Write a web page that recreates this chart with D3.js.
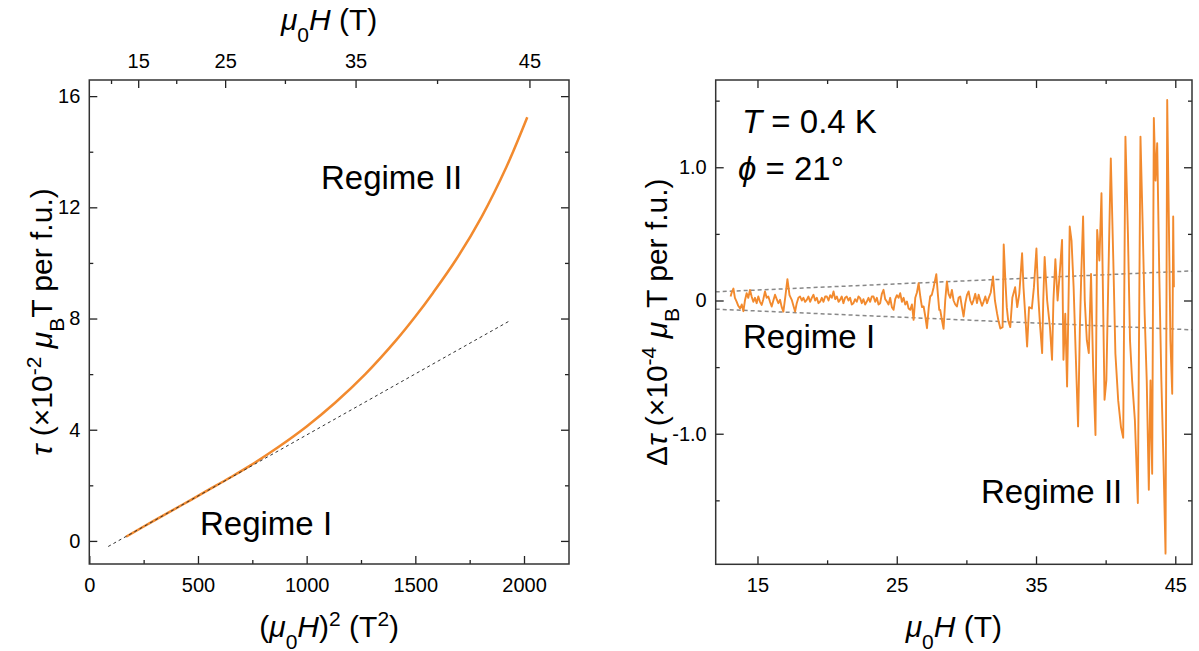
<!DOCTYPE html>
<html>
<head>
<meta charset="utf-8">
<script src="https://cdn.jsdelivr.net/npm/d3@7"></script>
<style>
body { margin: 0; background: #fff; }
svg { font-family: "Liberation Sans", Arial, sans-serif; }
.tick text { font-size: 20px; fill: #000; }
.tick line { stroke: #222; stroke-width: 1.3; }
.title { font-size: 30px; fill: #000; }
.note { font-size: 33px; fill: #000; }
</style>
</head>
<body>
<script>
// left panel: torque against (mu0 H)^2
var leftH2  = [169, 300, 430, 556, 650, 740, 870, 1000, 1131, 1270, 1414, 1500, 1582, 1690, 1805, 1920, 2015];
var leftTau = [0.15, 0.74, 1.31, 1.87, 2.29, 2.71, 3.38, 4.12, 4.97, 6.0, 7.24, 8.07, 8.93, 10.15, 11.66, 13.47, 15.24];
// straight fit of regime I
var fitH2  = [87, 1928];
var fitTau = [-0.2, 7.89];

var leftXTicks = [0, 500, 1000, 1500, 2000], leftXMinor = [250, 750, 1250, 1750];
var leftYTicks = [0, 4, 8, 12, 16], leftYMinor = [2, 6, 10, 14];
var topTicks = [15, 25, 35, 45], topMinor = [10, 20, 30, 40];

// right panel: oscillating part of the torque
var rightField = [13.07,13.15,13.27,13.38,13.51,13.62,13.75,13.87,13.99,14.10,14.22,14.34,14.46,14.58,14.70,14.82,14.94,15.06,15.18,15.30,
  15.42,15.54,15.66,15.78,15.90,16.02,16.14,16.26,16.38,16.50,16.62,16.74,16.86,17.00,17.15,17.30,17.46,17.58,17.70,17.82,
  17.94,18.06,18.18,18.30,18.42,18.54,18.66,18.78,18.90,19.02,19.14,19.26,19.38,19.50,19.62,19.74,19.86,19.98,20.10,20.22,
  20.34,20.46,20.58,20.70,20.82,20.93,21.05,21.17,21.29,21.41,21.53,21.65,21.77,21.89,22.01,22.13,22.25,22.37,22.49,22.61,
  22.73,22.85,22.97,23.09,23.21,23.33,23.45,23.57,23.69,23.81,23.93,24.05,24.17,24.29,24.41,24.53,24.65,24.77,24.89,25.01,
  25.13,25.25,25.37,25.49,25.61,25.73,25.85,25.97,26.09,26.21,26.33,26.45,26.57,26.69,26.81,26.93,27.05,27.17,27.30,27.40,
  27.52,27.65,27.84,27.95,28.05,28.12,28.25,28.36,28.48,28.60,28.72,28.84,28.96,29.08,29.20,29.32,29.44,29.56,29.68,29.80,
  29.92,30.04,30.16,30.28,30.40,30.52,30.64,30.76,30.88,31.00,31.12,31.24,31.36,31.48,31.60,31.75,31.91,32.05,32.20,32.30,
  32.44,32.60,32.68,32.80,32.90,33.00,33.15,33.30,33.50,33.65,33.80,34.00,34.10,34.25,34.36,34.50,34.70,34.85,35.03,35.15,
  35.30,35.44,35.52,35.62,35.80,36.00,36.15,36.25,36.39,36.55,36.70,36.87,36.97,37.10,37.23,37.35,37.42,37.55,37.70,37.85,
  38.02,38.15,38.25,38.38,38.50,38.65,38.79,38.95,39.10,39.27,39.39,39.55,39.70,39.92,40.05,40.20,40.37,40.55,40.70,40.90,
  41.10,41.26,41.42,41.60,41.75,41.90,42.10,42.31,42.50,42.65,42.80,42.95,43.10,43.22,43.34,43.46,43.58,43.70,43.85,44.00,
  44.15,44.30,44.42,44.55,44.65,44.78,44.85,44.90];
var rightTau = [0.03,0.06,0.09,0.02,-0.01,-0.04,-0.06,-0.03,-0.08,0.00,0.055,0.02,0.08,0.03,-0.01,0.02,-0.02,0.03,-0.01,-0.033,
  0.01,0.068,0.02,0.03,-0.01,-0.045,0.00,0.043,0.01,-0.02,0.005,-0.05,-0.083,0.03,0.16,0.04,0.005,-0.04,-0.083,-0.02,
  0.02,0.03,0.00,0.02,-0.01,0.005,0.03,-0.01,0.02,0.043,0.00,0.02,-0.02,-0.008,0.02,-0.01,0.03,0.03,0.00,0.04,
  0.02,0.068,0.01,0.03,-0.01,0.005,0.03,-0.02,0.02,0.03,0.00,0.02,-0.03,-0.02,0.01,-0.01,0.03,0.018,-0.02,0.01,
  -0.03,-0.008,0.02,-0.01,0.03,0.03,-0.01,0.02,-0.03,-0.02,0.05,0.08,0.01,-0.008,-0.03,0.02,-0.05,-0.07,0.01,0.04,
  0.02,0.055,-0.01,0.02,-0.03,-0.008,-0.06,-0.07,-0.03,-0.145,0.02,0.06,0.13,0.03,-0.05,-0.045,-0.12,-0.208,-0.05,0.03,
  0.043,0.10,0.198,0.05,-0.07,-0.07,-0.15,-0.213,0.00,0.143,0.05,0.02,0.08,0.00,-0.03,-0.045,0.02,0.03,-0.05,-0.12,
  -0.02,0.04,0.068,0.00,-0.03,0.005,0.05,-0.02,0.043,0.00,-0.04,-0.008,0.03,-0.02,0.018,0.06,0.18,0.00,-0.095,-0.15,
  -0.21,-0.20,0.42,0.15,-0.05,-0.15,-0.20,0.02,0.10,-0.05,0.05,0.355,0.10,-0.15,-0.345,-0.05,-0.06,0.10,0.39,0.05,
  -0.20,-0.395,0.00,0.327,0.00,-0.20,-0.445,0.00,0.31,0.00,0.20,0.455,-0.445,-0.10,-0.645,0.10,0.555,0.45,0.10,-0.40,
  -0.945,-0.20,0.20,0.63,0.00,-0.30,-0.395,0.20,-0.50,-1.01,0.53,0.30,0.805,-0.745,-0.60,0.20,1.067,0.30,-0.40,-0.75,
  -0.95,-1.03,1.23,0.50,-0.30,-0.60,-0.90,-1.52,1.23,0.60,-0.10,-0.60,-1.42,-0.60,-1.30,1.37,0.90,1.18,0.20,-0.60,
  -1.20,-1.90,1.505,0.50,-0.30,-0.70,0.63,0.10];
// dashed envelope of regime I
var guideField = [12, 46.2];
var guideUpper = [0.065, 0.222];
var guideLower = [-0.065, -0.22];

var rightXTicks = [15, 25, 35, 45], rightXMinor = [20, 30, 40];
var rightYTicks = [-1, 0, 1], rightYMinor = [-1.5, -0.5, 0.5, 1.5];

var orange = "#f28a2e";
var width = 1199, height = 651;

var svg = d3.select("body").append("svg")
    .attr("width", width)
    .attr("height", height);

// draws one set of inward ticks, labels optional
function ticks(axisFn, scale, vals, len, pad, fmt, tr) {
  var ax = axisFn(scale).tickValues(vals)
      .tickSizeInner(-len).tickSizeOuter(0).tickPadding(pad)
      .tickFormat(fmt || "");
  var g = svg.append("g").attr("transform", tr).call(ax);
  g.select(".domain").remove();
  return g;
}

function frame(x0, y0, x1, y1) {
  svg.append("rect")
      .attr("x", x0).attr("y", y0)
      .attr("width", x1 - x0).attr("height", y1 - y0)
      .attr("fill", "none")
      .attr("stroke", "#333")
      .attr("stroke-width", 1.5);
}

// ---------- left panel ----------
var L = {x0: 89.3, x1: 569, y0: 80, y1: 564};
var lx = d3.scaleLinear().domain([0, 2207]).range([L.x0, L.x1]);
var ly = d3.scaleLinear().domain([-0.83, 16.58]).range([L.y1, L.y0]);
var lxTop = d3.scalePow().exponent(2).domain([0, Math.sqrt(2207)]).range([L.x0, L.x1]);

var intFmt = d3.format("d");
ticks(d3.axisBottom, lx, leftXTicks, 8, 14, intFmt, "translate(0," + L.y1 + ")");
ticks(d3.axisBottom, lx, leftXMinor, 4, 14, null, "translate(0," + L.y1 + ")");
ticks(d3.axisLeft, ly, leftYTicks, 8, 9, intFmt, "translate(" + L.x0 + ",0)");
ticks(d3.axisLeft, ly, leftYMinor, 4, 9, null, "translate(" + L.x0 + ",0)");
ticks(d3.axisRight, ly, leftYTicks, 8, 9, null, "translate(" + L.x1 + ",0)");
ticks(d3.axisRight, ly, leftYMinor, 4, 9, null, "translate(" + L.x1 + ",0)");
ticks(d3.axisTop, lxTop, topTicks, 8, 12, intFmt, "translate(0," + L.y0 + ")");
ticks(d3.axisTop, lxTop, topMinor, 4, 12, null, "translate(0," + L.y0 + ")");

var line = d3.line()
    .x(function(d) { return lx(d[0]); })
    .y(function(d) { return ly(d[1]); });

svg.append("path")
    .attr("d", line.curve(d3.curveCatmullRom)(leftH2.map(function(v, i) { return [v, leftTau[i]]; })))
    .attr("fill", "none")
    .attr("stroke", orange)
    .attr("stroke-width", 2.5);

// fit line sits on top of the data
svg.append("path")
    .attr("d", line.curve(d3.curveLinear)(fitH2.map(function(v, i) { return [v, fitTau[i]]; })))
    .attr("fill", "none")
    .attr("stroke", "#333")
    .attr("stroke-width", 1)
    .attr("stroke-dasharray", "3,3");

frame(L.x0, L.y0, L.x1, L.y1);

svg.append("text").attr("class", "note").attr("x", 321).attr("y", 189).text("Regime II");
svg.append("text").attr("class", "note").attr("x", 200).attr("y", 535).text("Regime I");

// axis titles
var t = svg.append("text").attr("class", "title")
    .attr("x", (L.x0 + L.x1) / 2).attr("y", 637).attr("text-anchor", "middle");
t.append("tspan").text("(");
t.append("tspan").attr("font-style", "italic").text("μ");
t.append("tspan").attr("baseline-shift", "sub").attr("font-size", "70%").text("0");
t.append("tspan").attr("font-style", "italic").text("H");
t.append("tspan").text(")");
t.append("tspan").attr("baseline-shift", "super").attr("font-size", "70%").text("2");
t.append("tspan").text(" (T");
t.append("tspan").attr("baseline-shift", "super").attr("font-size", "70%").text("2");
t.append("tspan").text(")");

function fieldTitle(x, y) {
  var t = svg.append("text").attr("class", "title")
      .attr("x", x).attr("y", y).attr("text-anchor", "middle");
  t.append("tspan").attr("font-style", "italic").text("μ");
  t.append("tspan").attr("baseline-shift", "sub").attr("font-size", "70%").text("0");
  t.append("tspan").attr("font-style", "italic").text("H");
  t.append("tspan").text(" (T)");
}
fieldTitle((L.x0 + L.x1) / 2, 30);

function torqueTitle(x, y, pre, exp) {
  var t = svg.append("text").attr("class", "title")
      .attr("transform", "translate(" + x + "," + y + ") rotate(-90)")
      .attr("text-anchor", "middle");
  if (pre) t.append("tspan").text(pre);
  t.append("tspan").attr("font-style", "italic").text("τ");
  t.append("tspan").text(" (×10");
  t.append("tspan").attr("baseline-shift", "super").attr("font-size", "70%").text(exp);
  t.append("tspan").text(" ");
  t.append("tspan").attr("font-style", "italic").text("μ");
  t.append("tspan").attr("baseline-shift", "sub").attr("font-size", "70%").text("B");
  t.append("tspan").text("T per f.u.)");
}
torqueTitle(52, (L.y0 + L.y1) / 2, null, "-2");

// ---------- right panel ----------
var R = {x0: 715.7, x1: 1192, y0: 80, y1: 564.3};
var rx = d3.scaleLinear().domain([12, 46.2]).range([R.x0, R.x1]);
var ry = d3.scaleLinear().domain([-1.98, 1.655]).range([R.y1, R.y0]);

var decFmt = function(d) { return d === 0 ? "0" : d.toFixed(1); };
ticks(d3.axisBottom, rx, rightXTicks, 8, 14, intFmt, "translate(0," + R.y1 + ")");
ticks(d3.axisBottom, rx, rightXMinor, 4, 14, null, "translate(0," + R.y1 + ")");
ticks(d3.axisTop, rx, rightXTicks, 8, 12, null, "translate(0," + R.y0 + ")");
ticks(d3.axisTop, rx, rightXMinor, 4, 12, null, "translate(0," + R.y0 + ")");
ticks(d3.axisLeft, ry, rightYTicks, 8, 9, decFmt, "translate(" + R.x0 + ",0)");
ticks(d3.axisLeft, ry, rightYMinor, 4, 9, null, "translate(" + R.x0 + ",0)");
ticks(d3.axisRight, ry, rightYTicks, 8, 9, null, "translate(" + R.x1 + ",0)");
ticks(d3.axisRight, ry, rightYMinor, 4, 9, null, "translate(" + R.x1 + ",0)");

var rline = d3.line()
    .x(function(d) { return rx(d[0]); })
    .y(function(d) { return ry(d[1]); });

[guideUpper, guideLower].forEach(function(g) {
  svg.append("path")
      .attr("d", rline(guideField.map(function(v, i) { return [v, g[i]]; })))
      .attr("fill", "none")
      .attr("stroke", "#888")
      .attr("stroke-width", 1.5)
      .attr("stroke-dasharray", "4,3");
});

svg.append("path")
    .attr("d", rline(rightField.map(function(v, i) { return [v, rightTau[i]]; })))
    .attr("fill", "none")
    .attr("stroke", orange)
    .attr("stroke-width", 1.9)
    .attr("stroke-linejoin", "round");

frame(R.x0, R.y0, R.x1, R.y1);

var n1 = svg.append("text").attr("class", "note").attr("x", 742).attr("y", 133);
n1.append("tspan").attr("font-style", "italic").text("T");
n1.append("tspan").text(" = 0.4 K");
var n2 = svg.append("text").attr("class", "note").attr("x", 738).attr("y", 180);
n2.append("tspan").attr("font-style", "italic").text("ϕ");
n2.append("tspan").text(" = 21°");

svg.append("text").attr("class", "note").attr("x", 743).attr("y", 348).text("Regime I");
svg.append("text").attr("class", "note").attr("x", 981).attr("y", 503).text("Regime II");

fieldTitle((R.x0 + R.x1) / 2, 637);
torqueTitle(667, (R.y0 + R.y1) / 2, "Δ", "-4");
</script>
</body>
</html>
